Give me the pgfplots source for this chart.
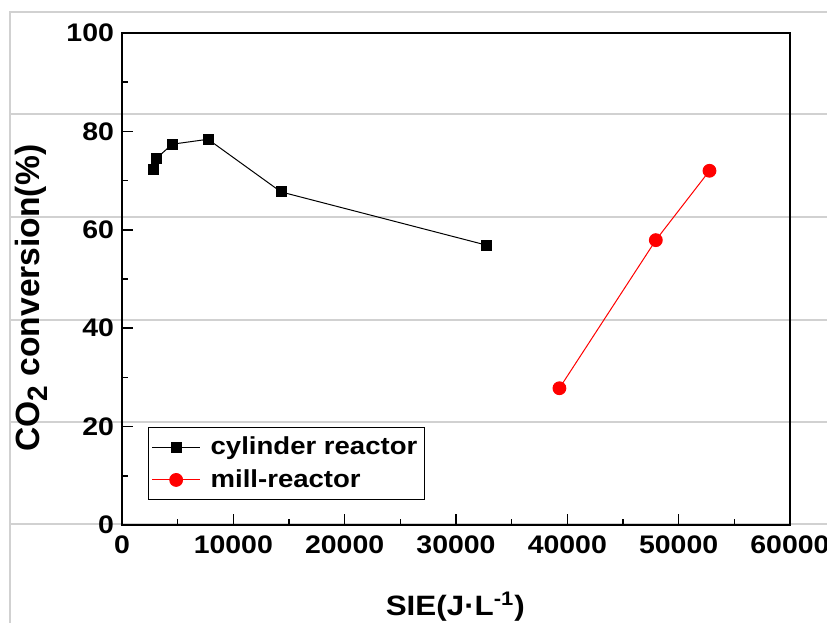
\documentclass[border=0pt]{standalone}
\usepackage{fontspec}
\setmainfont{Liberation Sans}[FakeStretch=1.12]
\newfontfamily\ylabfont{Liberation Sans}
\usepackage{pgfplots}
\pgfplotsset{compat=1.18}
\begin{document}
\begin{tikzpicture}
% faint background rules of the source page
\foreach \yy in {256.5,205.5,154,102.5,51.5,0.5}{
  \draw[black!18, line width=0.6pt] (-56pt,\yy pt) -- (352.5pt,\yy pt);
}
\draw[black!18, line width=0.6pt] (-56pt,257pt) -- (-56pt,-49pt);
\begin{axis}[
  scale only axis, width=334pt, height=246pt,
  xmin=0, xmax=60000, ymin=0, ymax=100,
  xtick={0,10000,...,60000}, ytick={0,20,...,100},
  minor x tick num=1, minor y tick num=1,
  tick align=inside, xtick pos=bottom, ytick pos=left,
  major tick length=5.3pt, minor tick length=2.8pt,
  tick style={black, line width=0.8pt},
  axis line style={line width=1pt},
  scaled x ticks=false,
  /pgf/number format/set thousands separator={},
  /pgf/number format/assume math mode=true,
  ticklabel style={font=\fontsize{12.7}{14}\selectfont\bfseries},
  yticklabel style={xshift=-0.5pt},
  xticklabel style={yshift=-2pt},
  xlabel={SIE(J\textperiodcentered L\textsuperscript{-1})},
  ylabel={\ylabfont CO{\fontsize{14}{15}\selectfont\raisebox{-4pt}{2}} conversion(\%)},
  label style={font=\fontsize{14}{16}\selectfont\bfseries},
  xlabel style={at={(axis description cs:0.499,-0.166)}, anchor=center},
  ylabel style={at={(axis description cs:-0.1355,0.461)}, anchor=center,
    font=\fontsize{16.8}{18}\selectfont\bfseries},
  legend style={at={(axis description cs:0.039,0.199)}, anchor=north west,
    font=\fontsize{12.3}{14}\selectfont\bfseries, draw=black, line width=0.6pt,
    inner xsep=1.5pt, inner ysep=2.5pt, row sep=2pt},
  legend cell align=left,
  legend image code/.code={%
    \draw[#1, mark repeat=2, mark phase=2] plot coordinates {(0pt,0pt) (12pt,0pt) (24pt,0pt)};
    \path (27pt,0pt);},
]
\addplot[black, line width=0.5pt, mark=square*, mark size=2.5pt, mark options={fill=black}] coordinates {
  (2785,72.3) (3073,74.5) (4519,77.4) (7727,78.4) (14286,67.7) (32704,56.9)
};
\addlegendentry{cylinder reactor}
\addplot[red, line width=0.5pt, mark=*, mark size=3.2pt, mark options={fill=red}] coordinates {
  (39290,27.8) (47950,57.9) (52770,72.0)
};
\addlegendentry{mill-reactor}
\end{axis}
\pgfresetboundingbox
\path[use as bounding box] (-61pt,-49pt) rectangle (352.5pt,262.5pt);
\end{tikzpicture}
\end{document}
